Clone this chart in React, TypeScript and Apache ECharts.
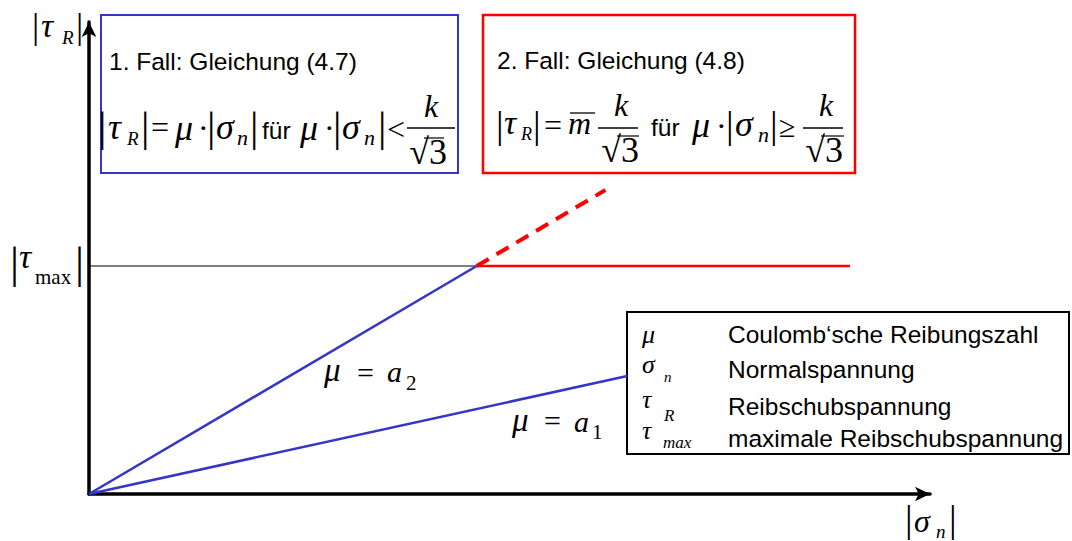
import React, { useEffect, useRef } from "react";
import * as echarts from "echarts";

// Reibungsgesetz: |τ_R| über |σ_n| (normierte Einheiten, Achsen 0..10)
const axisMax = 10;
const tauMax = 4.83;
const sigmaKnee = 4.61;

// μ = a2: steile Gerade bis zum Knick bei τ_max
const lineA2: [number, number][] = [
  [0, 0],
  [sigmaKnee, tauMax],
];
// gestrichelte Fortsetzung oberhalb τ_max
const lineA2Extension: [number, number][] = [
  [sigmaKnee, tauMax],
  [6.14, 6.44],
];
// Begrenzung τ_R = τ_max (2. Fall)
const lineTauMaxLimit: [number, number][] = [
  [sigmaKnee, tauMax],
  [9.05, tauMax],
];
// Hilfslinie von der Ordinate bis zum Knick
const lineTauMaxGuide: [number, number][] = [
  [0, tauMax],
  [sigmaKnee, tauMax],
];
// μ = a1: flache Gerade
const lineA1: [number, number][] = [
  [0, 0],
  [6.4, 2.5],
];

const legendTexts = [
  "Coulomb\u2018sche Reibungszahl",
  "Normalspannung",
  "Reibschubspannung",
  "maximale Reibschubspannung",
];
const caseTitles = ["1. Fall: Gleichung (4.7)", "2. Fall: Gleichung (4.8)"];

const BLUE = "#3535c8";
const RED = "#ff0000";
const SERIF = "'Liberation Serif', 'Times New Roman', serif";
const SANS = "'Liberation Sans', Arial, sans-serif";
const SANS_SIZE = 24.5;

type Kind = "bar" | "gr" | "it" | "op" | "rm" | "sub" | "subrm" | "sans";

function txt(
  x: number,
  y: number,
  text: string,
  kind: Kind,
  size: number,
  align: "left" | "center" = "left"
) {
  const italic = kind === "gr" || kind === "it" || kind === "sub";
  const family = kind === "sans" ? SANS : SERIF;
  return {
    type: "text",
    x,
    y,
    silent: true,
    style: {
      text,
      fill: "#000",
      fontSize: size,
      fontFamily: family,
      fontStyle: italic ? "italic" : "normal",
      textAlign: align,
      align,
      textVerticalAlign: "middle",
      verticalAlign: "middle",
    },
  };
}

function hline(x1: number, x2: number, y: number, color = "#000", w = 1.3) {
  return {
    type: "line",
    silent: true,
    shape: { x1, y1: y, x2, y2: y },
    style: { stroke: color, lineWidth: w },
  };
}

function frame(x: number, y: number, w: number, h: number, color: string, lw: number) {
  return {
    type: "rect",
    silent: true,
    shape: { x, y, width: w, height: h },
    style: { fill: "transparent", stroke: color, lineWidth: lw },
  };
}

// Bruch k/√3 mit Wurzelstrich über der 3
function fraction(g: any[], x1: number, x2: number, lineY: number, kX: number, kY: number, rX: number, rY: number, barX1: number, barX2: number, barY: number) {
  g.push(hline(x1, x2, lineY));
  g.push(txt(kX, kY, "k", "it", 32, "center"));
  g.push(txt(rX, rY, "√3", "rm", 36, "center"));
  g.push(hline(barX1, barX2, barY, "#000", 1.2));
}

function buildGraphics() {
  const g: any[] = [];

  // Rahmen
  g.push(frame(101, 15, 357, 158, BLUE, 2));
  g.push(frame(483, 15, 372, 158, RED, 2.5));
  g.push(frame(627, 312, 442, 142, "#000", 2));

  // Überschriften der Fälle
  g.push(txt(109, 61, caseTitles[0], "sans", SANS_SIZE));
  g.push(txt(497, 60, caseTitles[1], "sans", SANS_SIZE));

  // 1. Fall: |τ_R| = μ·|σ_n| für μ·|σ_n| < k/√3
  const y1 = 126.5;
  g.push(txt(98, y1, "|", "bar", 42));
  g.push(txt(108, y1, "τ", "gr", 36));
  g.push(txt(127, y1 + 11.5, "R", "sub", 19));
  g.push(txt(141, y1, "|", "bar", 42));
  g.push(txt(151, y1 + 0.5, "=", "op", 32));
  g.push(txt(175, y1 + 1, "μ", "gr", 36));
  g.push(txt(198, y1 + 1.5, "·", "op", 32));
  g.push(txt(207, y1, "|", "bar", 42));
  g.push(txt(216, y1, "σ", "gr", 36));
  g.push(txt(237, y1 + 10.5, "n", "sub", 22));
  g.push(txt(250, y1, "|", "bar", 42));
  g.push(txt(262, y1 + 4, "für", "sans", SANS_SIZE));
  g.push(txt(300, y1 + 1, "μ", "gr", 36));
  g.push(txt(324, y1 + 1.5, "·", "op", 32));
  g.push(txt(333, y1, "|", "bar", 42));
  g.push(txt(342, y1, "σ", "gr", 36));
  g.push(txt(364, y1 + 10.5, "n", "sub", 22));
  g.push(txt(378, y1, "|", "bar", 42));
  g.push(txt(387, y1 + 2, "<", "op", 32));
  fraction(g, 407, 455, 128, 431, 106, 428, 152, 424, 444, 138);

  // 2. Fall: |τ_R| = m̄ k/√3 für μ·|σ_n| ≥ k/√3
  const y2 = 125;
  g.push(txt(496, y2, "|", "bar", 38));
  g.push(txt(504, y2 - 3, "τ", "gr", 34));
  g.push(txt(521, y2 + 8.5, "R", "sub", 18));
  g.push(txt(533, y2, "|", "bar", 38));
  g.push(txt(544, y2, "=", "op", 32));
  g.push(txt(568, y2 - 2.5, "m", "it", 32));
  g.push(hline(570, 595, y2 - 12, "#000", 1.3));
  fraction(g, 598, 638, 128, 621, 104.5, 620, 150, 617, 639, 136);
  g.push(txt(651, y2 + 2, "für", "sans", SANS_SIZE));
  g.push(txt(692, y2, "μ", "gr", 36));
  g.push(txt(716, y2 + 1, "·", "op", 32));
  g.push(txt(726, y2, "|", "bar", 38));
  g.push(txt(735, y2 - 1.2, "σ", "gr", 36));
  g.push(txt(758, y2 + 9.6, "n", "sub", 22));
  g.push(txt(770, y2, "|", "bar", 38));
  g.push(txt(779, y2 + 1.3, "≥", "op", 30));
  fraction(g, 803, 843, 128, 826, 104.5, 824, 150, 821, 844, 136);

  // Achsenbeschriftungen
  g.push(txt(32, 25.5, "|", "bar", 36));
  g.push(txt(41, 25.8, "τ", "gr", 34));
  g.push(txt(62, 37.5, "R", "sub", 19));
  g.push(txt(76, 25.5, "|", "bar", 36));

  g.push(txt(10, 263, "|", "bar", 45));
  g.push(txt(19, 256, "τ", "gr", 34));
  g.push(txt(35, 277, "max", "subrm", 21));
  g.push(txt(75, 263, "|", "bar", 45));

  g.push(txt(905, 519, "|", "bar", 38));
  g.push(txt(914, 521, "σ", "gr", 32));
  g.push(txt(936, 531, "n", "sub", 19));
  g.push(txt(949, 519, "|", "bar", 38));

  // Geradenbezeichnungen
  g.push(txt(324, 370.2, "μ", "gr", 33));
  g.push(txt(357, 372.3, "=", "op", 30));
  g.push(txt(387, 371.7, "a", "it", 30));
  g.push(txt(406, 382.5, "2", "subrm", 21));

  g.push(txt(512, 419.7, "μ", "gr", 33));
  g.push(txt(544, 420.3, "=", "op", 30));
  g.push(txt(574, 421.7, "a", "it", 30));
  g.push(txt(592, 431.5, "1", "subrm", 21));

  // Legende
  g.push(txt(642, 334, "μ", "gr", 26));
  g.push(txt(642, 364, "σ", "gr", 26));
  g.push(txt(664, 377, "n", "sub", 15));
  g.push(txt(642, 399, "τ", "gr", 26));
  g.push(txt(664, 415, "R", "sub", 17));
  g.push(txt(642, 430, "τ", "gr", 26));
  g.push(txt(663, 442, "max", "sub", 17));

  const rowY = [334.4, 369.4, 406.4, 438.4];
  legendTexts.forEach((s, i) => g.push(txt(728, rowY[i], s, "sans", SANS_SIZE)));

  return g;
}

export default function App() {
  const ref = useRef<HTMLDivElement>(null);

  useEffect(() => {
    if (!ref.current) return;
    const chart = echarts.init(ref.current, undefined, { renderer: "svg" });

    const axisCommon = {
      type: "value" as const,
      min: 0,
      max: axisMax,
      splitLine: { show: false },
      axisTick: { show: false },
      axisLabel: { show: false },
      axisLine: {
        show: true,
        symbol: ["none", "arrow"],
        symbolSize: [11, 15],
        lineStyle: { color: "#000", width: 3.5 },
      },
    };

    const lineSeries = (data: [number, number][], color: string, width: number, type: any = "solid", z = 3) => ({
      type: "line" as const,
      data,
      symbol: "none",
      silent: true,
      z,
      lineStyle: { color, width, type },
    });

    chart.setOption({
      animation: false,
      backgroundColor: "#fff",
      grid: { left: 89, right: 142, top: 22, bottom: 47, containLabel: false },
      xAxis: axisCommon,
      yAxis: axisCommon,
      series: [
        lineSeries(lineTauMaxGuide, "#000", 1, "solid", 2),
        lineSeries(lineTauMaxLimit, RED, 2.5),
        lineSeries(lineA2Extension, RED, 4, [14, 9]),
        lineSeries(lineA2, BLUE, 2.5, "solid", 4),
        lineSeries(lineA1, BLUE, 2.5, "solid", 4),
      ],
      graphic: buildGraphics(),
    });

    return () => chart.dispose();
  }, []);

  return (
    <div
      ref={ref}
      style={{ position: "fixed", left: 0, top: 0, width: 1072, height: 541, background: "#fff" }}
    />
  );
}
